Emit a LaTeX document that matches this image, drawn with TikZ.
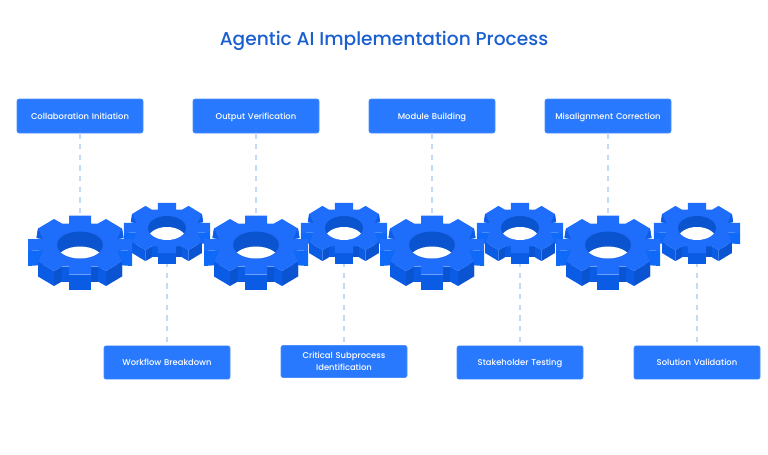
\documentclass[tikz,border=0pt]{standalone}
\usepackage{fontspec}
\newfontfamily\pmed{Poppins Medium}
\definecolor{boxblue}{HTML}{2979FF}
\definecolor{boxedge}{HTML}{4A8EFF}
\definecolor{titleblue}{HTML}{1A5FD0}
\definecolor{linkblue}{HTML}{C6D8F8}
\definecolor{gtop}{HTML}{1F6DFB}
\definecolor{gbright}{HTML}{0F6AFA}
\definecolor{gmid}{HTML}{0B5CE5}
\definecolor{gdark}{HTML}{0A54D2}
\definecolor{ghole}{HTML}{0A55CF}
\definecolor{gnotch}{HTML}{0F5CE6}
\tikzset{
  labelbox/.style={fill=boxblue,draw=boxedge,line width=0.4pt,rounded corners=1.5pt,
    minimum width=94.5pt,text width=90pt,align=center,text=white,inner sep=0pt,
    text height=6.5pt,text depth=1.5pt,
    font=\pmed\fontsize{6.3pt}{9pt}\selectfont},
  link/.style={draw=linkblue,line width=1.7pt,dash pattern=on 4pt off 4pt},
  titletext/.style={text=titleblue,font=\pmed\fontsize{13.95pt}{18pt}\selectfont,inner sep=0pt}
}
% points of one gear: top face and bottom face
\newcommand{\gp}[2]{({\gcx+\gsx*(#1)},{\gcy+\gsy*(#2)})}
\newcommand{\gq}[2]{({\gcx+\gsx*(#1)},{\gcy+\gdp+\gsy*(#2)})}
\newcommand{\gface}[5]{\fill[#1] \gp{#2}{#3} -- \gp{#4}{#5} -- \gq{#4}{#5} -- \gq{#2}{#3} -- cycle;}
% \gearshape{cx}{cy}{scale x}{scale y}{depth}{hole rx}{hole ry}
\newcommand{\gearshape}[7]{%
  \def\gcx{#1}\def\gcy{#2}\def\gsx{#3}\def\gsy{#4}\def\gdp{#5}%
  \gface{gbright}{-52}{6}{-37}{5}%
  \gface{gbright}{37}{5}{52}{6}%
  \gface{gdark}{-37}{5}{-42}{16.5}%
  \gface{gmid}{42}{16.5}{37}{5}%
  \gface{gmid}{-42}{16.5}{-26}{26}%
  \gface{gdark}{26}{26}{42}{16.5}%
  \gface{gdark}{-26}{26}{-18}{21.5}%
  \gface{gmid}{18}{21.5}{26}{26}%
  \gface{gmid}{-18}{21.5}{-11}{21.5}%
  \gface{gdark}{11}{21.5}{18}{21.5}%
  \gface{gmid}{-11}{29.5}{11}{29.5}%
  \fill[gtop] \gp{-11}{-29.5} -- \gp{11}{-29.5} -- \gp{11}{-21.5} -- \gp{18}{-21.5}
    -- \gp{26}{-26} -- \gp{42}{-16.5} -- \gp{43.5}{-7} -- \gp{37}{-6} -- \gp{52}{-6}
    -- \gp{52}{6} -- \gp{37}{5} -- \gp{42}{16.5} -- \gp{26}{26} -- \gp{18}{21.5}
    -- \gp{11}{21.5} -- \gp{11}{29.5} -- \gp{-11}{29.5} -- \gp{-11}{21.5} -- \gp{-18}{21.5}
    -- \gp{-26}{26} -- \gp{-42}{16.5} -- \gp{-37}{5} -- \gp{-52}{6} -- \gp{-52}{-6}
    -- \gp{-37}{-6} -- \gp{-43.5}{-7} -- \gp{-42}{-16.5} -- \gp{-26}{-26} -- \gp{-18}{-21.5}
    -- \gp{-11}{-21.5} -- cycle;
  \fill[gnotch] \gp{42}{-16.5} -- \gp{43.5}{-7} -- \gp{37}{-6} -- cycle;
  \fill[gnotch] \gp{-42}{-16.5} -- \gp{-43.5}{-7} -- \gp{-37}{-6} -- cycle;
  \fill[ghole] (#1,#2) ellipse [x radius=#6,y radius=#7];
  \begin{scope}
    \clip (#1,#2) ellipse [x radius=#6,y radius=#7];
    \fill[white] (#1,#2+#5) ellipse [x radius=#6,y radius=#7];
  \end{scope}%
}
\newcommand{\smallgear}[1]{\gearshape{#1}{228}{0.83}{0.85}{11}{19}{12}}
\newcommand{\biggear}[1]{\gearshape{#1}{245}{1}{1}{15}{23}{13.5}}
\begin{document}
\begin{tikzpicture}[x=0.75pt,y=-0.75pt]
\useasboundingbox (0,0) rectangle (768,454);
\node[titletext] (title) at (384,41) {Agentic AI Implementation Process};

\node[labelbox,minimum height=25.5pt] (b1) at (80,116) {Collaboration Initiation};
\node[labelbox,minimum height=25.5pt] (b3) at (256,116) {Output Verification};
\node[labelbox,minimum height=25.5pt] (b5) at (432,116) {Module Building};
\node[labelbox,minimum height=25.5pt] (b7) at (608,116) {Misalignment Correction};
\node[labelbox,minimum height=25pt] (b2) at (167,362.5) {Workflow Breakdown};
\node[labelbox,minimum height=24pt,text height={},text depth={}] (b4) at (344,361.5) {Critical Subprocess\\Identification};
\node[labelbox,minimum height=25pt] (b6) at (520,362.5) {Stakeholder Testing};
\node[labelbox,minimum height=25pt] (b8) at (697,362.5) {Solution Validation};

\coordinate (g1) at (80,217);
\coordinate (g3) at (256,217);
\coordinate (g5) at (432,217);
\coordinate (g7) at (608,217);
\coordinate (g2) at (167,262);
\coordinate (g4) at (344,262);
\coordinate (g6) at (520,262);
\coordinate (g8) at (697,262);
\foreach \t in {1,3,5,7} {\draw[link] (b\t.south) -- (g\t);}
\foreach \t in {2,4,6,8} {\draw[link] (g\t) -- (b\t.north);}

\foreach \c in {167,344,520,697} {\smallgear{\c}}
\foreach \c in {80,256,432,608} {\biggear{\c}}
\end{tikzpicture}
\end{document}
